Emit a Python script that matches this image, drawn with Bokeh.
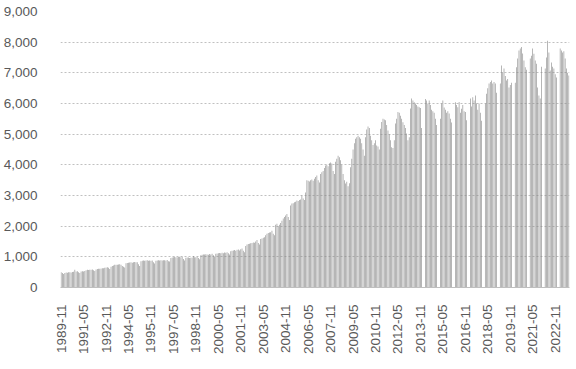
import math
from bokeh.plotting import figure
from bokeh.models import Range1d, FixedTicker, NumeralTickFormatter, ColumnDataSource
from bokeh.embed import file_html
from bokeh.resources import INLINE

# Monthly values, 1989-11 onwards (None = no data for that month)
y1989 = [500, 470]
y1990 = [440, 470, 490, 480, 500, 495, 490, 505, 510, 575, 520, 530]
y1991 = [500, 470, 520, 530, 525, 540, 560, 575, 570, 580, 575, 590]
y1992 = [560, 540, 590, 600, 610, 615, 620, 630, 625, 640, 650, 660]
y1993 = [640, 600, 680, 700, 720, 740, 745, 740, 750, 760, 740, 700]
y1994 = [680, 650, 790, 800, 810, 815, 820, 810, 820, 830, 820, 825]
y1995 = [760, 700, 860, 870, 880, 875, 880, 885, 870, 880, 875, 880]
y1996 = [820, 780, 870, 880, 885, 880, 890, 880, 885, 890, 880, 900]
y1997 = [860, 850, 960, 980, 990, 1000, 990, 985, 995, 1000, 990, 1000]
y1998 = [930, 880, 970, 980, 975, 960, 970, 980, 1030, 990, 985, 1000]
y1999 = [960, 920, 1050, 1070, 1080, 1075, 1085, 1080, 1070, 1090, 1080, 1100]
y2000 = [1050, 1000, 1100, 1110, 1120, 1125, 1120, 1130, 1120, 1140, 1130, 1150]
y2001 = [1120, 1080, 1180, 1200, 1210, 1220, 1200, 1230, 1240, 1210, 1250, 1270]
y2002 = [1200, 1150, 1350, 1400, 1420, 1430, 1440, 1450, 1470, 1460, 1500, 1550]
y2003 = [1450, 1400, 1580, 1600, 1620, 1640, 1700, 1750, 1780, 1790, 1800, 1850]
y2004 = [1750, 1700, 2050, 2080, 2000, 2050, 2100, 2180, 2250, 2300, 2350, 2400]
y2005 = [2300, 2200, 2670, 2740, 2750, 2780, 2800, 2840, 2820, 2850, 2870, 3000]
y2006 = [2900, 2850, 3100, 3500, 3480, 3460, 3500, 3520, 3480, 3550, 3600, 3650]
y2007 = [3500, 3420, 3700, 3760, 3800, 3900, 3980, 4000, 3950, 4050, 4080, 4040]
y2008 = [3800, 3700, 4100, 4200, 4300, 4250, 4150, 4000, 3700, 3500, 3390, 3450]
y2009 = [3300, 3400, 3920, 4200, 4500, 4700, 4850, 4900, 4950, 4900, 4850, 4700]
y2010 = [4500, 4300, 4900, 5150, 5250, 5200, 4950, 4800, 4650, 4700, 4800, 4630]
y2011 = [4600, 4500, 5180, 5400, 5500, 5480, 5450, 5300, 5120, 5000, 4800, 4570]
y2012 = [4550, 4800, 5350, 5500, 5720, 5700, 5600, 5500, 5390, 5300, 5200, 5020]
y2013 = [4800, 4900, 5840, 6160, 6100, 6040, 6000, 5950, 5900, 5880, 5850, 5200]
y2014 = [None, None, 6150, 6100, 6000, 6100, 5950, 5800, 5750, 5700, 5500, 5300]
y2015 = [None, None, 5500, 6000, 6100, 5870, 5800, 5700, 5750, 5670, 5500, 5380]
y2016 = [None, None, 6040, 5950, 5880, 6050, 5700, 5830, 5950, 5750, 5720, 5450]
y2017 = [None, None, 6160, 5900, 6200, 6100, 6260, 6000, 5800, 6000, 5700, 5440]
y2018 = [None, None, 6000, 6320, 6500, 6650, 6700, 6750, 6650, 6700, 6650, 6350]
y2019 = [None, None, 6650, 7240, 7020, 7140, 6900, 6750, 6800, 6520, 6600, 6680]
y2020 = [None, None, 6680, 7180, 7470, 7730, 7790, 7840, 7630, 7400, 7180, 7100]
y2021 = [None, None, 7470, 7560, 7790, 7620, 7400, 7300, 6520, 6260, 6160, 7200]
y2022 = [None, None, 7140, 7500, 8050, 7660, 7080, 7340, 7200, 7140, 6950, 6850]
y2023 = [None, None, 7790, 7730, 7660, 7700, 7470, 7140, 7000, 6910]

tick_labels = ["1989-11", "1991-05", "1992-11", "1994-05", "1995-11", "1997-05",
               "1998-11", "2000-05", "2001-11", "2003-05", "2004-11", "2006-05",
               "2007-11", "2009-05", "2010-11", "2012-05", "2013-11", "2015-05",
               "2016-11", "2018-05", "2019-11", "2021-05", "2022-11"]
y_ticks = [0, 1000, 2000, 3000, 4000, 5000, 6000, 7000, 8000, 9000]

yearly = [y1989, y1990, y1991, y1992, y1993, y1994, y1995, y1996, y1997, y1998,
          y1999, y2000, y2001, y2002, y2003, y2004, y2005, y2006, y2007, y2008,
          y2009, y2010, y2011, y2012, y2013, y2014, y2015, y2016, y2017, y2018,
          y2019, y2020, y2021, y2022, y2023]
values = [v for yr in yearly for v in yr]
n = len(values)

months = []
yy, mm = 1989, 11
for _ in range(n):
    months.append(f"{yy}-{mm:02d}")
    mm += 1
    if mm > 12:
        mm = 1
        yy += 1

xs = [i for i, v in enumerate(values) if v is not None]
tops = [v for v in values if v is not None]
src = ColumnDataSource(dict(x=xs, top=tops))

FONT = "Liberation Sans"
LABEL_COLOR = "#595959"

p = figure(width=576, height=369, output_backend="svg", toolbar_location=None,
           x_range=Range1d(-0.5, n - 0.5), y_range=Range1d(0, 9000),
           min_border_left=57, min_border_right=7, min_border_top=11,
           min_border_bottom=82)
p.outline_line_color = None
p.background_fill_color = "white"
p.border_fill_color = "white"

p.vbar(x="x", top="top", width=0.5, bottom=0, source=src,
       fill_color="#8a8a8a", line_color=None)

# y axis
p.yaxis.ticker = FixedTicker(ticks=y_ticks)
p.yaxis.formatter = NumeralTickFormatter(format="0,0")
p.yaxis.axis_line_color = None
p.yaxis.major_tick_line_color = None
p.yaxis.minor_tick_line_color = None
p.yaxis.major_label_standoff = 17
p.yaxis.major_label_text_font = FONT
p.yaxis.major_label_text_font_size = "13.5px"
p.yaxis.major_label_text_color = LABEL_COLOR

# x axis
tick_pos = [months.index(t) for t in tick_labels]
p.xaxis.ticker = FixedTicker(ticks=tick_pos)
p.xaxis.major_label_overrides = {pos: lab for pos, lab in zip(tick_pos, tick_labels)}
p.xaxis.major_label_orientation = math.pi / 2
p.xaxis.axis_line_color = "#BFBFBF"
p.xaxis.axis_line_width = 1
p.xaxis.major_tick_line_color = None
p.xaxis.minor_tick_line_color = None
p.xaxis.major_label_standoff = 11
p.xaxis.major_label_text_font = FONT
p.xaxis.major_label_text_font_size = "13.5px"
p.xaxis.major_label_text_color = LABEL_COLOR

p.xgrid.grid_line_color = None
p.ygrid.grid_line_color = "#C0C0C0"
p.ygrid.grid_line_dash = "2 2"
p.ygrid.grid_line_width = 1

open("out.html", "w").write(file_html(p, INLINE))
